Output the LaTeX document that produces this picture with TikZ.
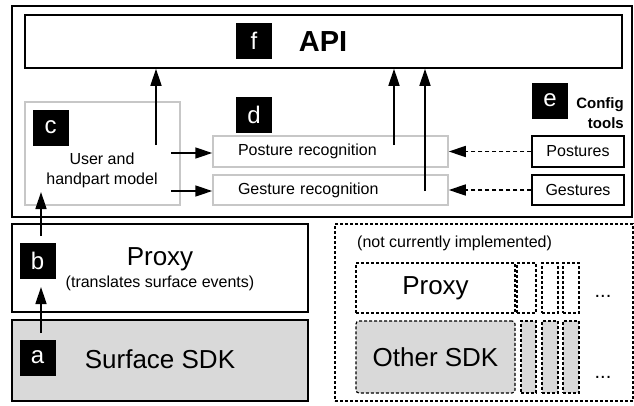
\documentclass[tikz,border=0pt]{standalone}
\usepackage{fontspec}
\setmainfont{Liberation Sans}
\usetikzlibrary{arrows.meta}

\newcommand{\szfont}[2]{\fontsize{#1}{#2}\selectfont}

\tikzset{
  box/.style={draw, line width=1.5pt, inner sep=0pt},
  graybox/.style={draw=black!22, line width=1.5pt, inner sep=0pt},
  dbox/.style={draw, line width=1.2pt, dash pattern=on 3pt off 2pt, inner sep=0pt},
  tag/.style={fill=black, text=white, minimum size=36pt, inner sep=0pt, font=\szfont{24}{24}},
  arr/.style={line width=1.5pt, -{Triangle[length=17pt,width=11pt]}},
  darr/.style={arr, dash pattern=on 4pt off 3pt},
  txt/.style={font=\szfont{16}{20}, align=center, inner sep=0pt},
  big/.style={font=\szfont{26}{28}, inner sep=0pt}
}

\begin{document}
\begin{tikzpicture}[x=1pt,y=-1pt]
	\useasboundingbox (0,0) rectangle (634,405);
	% Верхний блок
	\node[box, minimum width=620pt, minimum height=211pt] (frame) at (322,111.5) {};
	\node[box, minimum width=597pt, minimum height=53pt] (api) at (323.5,41.5) {};
	\node[tag] (f) at (254,41) {f};
	\node[font=\szfont{29}{30}\bfseries, inner sep=0pt] (apitext) at (323,42) {API};
	% Модель руки
	\node[graybox, minimum width=155pt, minimum height=103pt] (model) at (102.5,153.5) {};
	\node[tag] (c) at (50.5,127.5) {c};
	\node[txt] (modeltext) at (102,170) {User and\\handpart model};
	% Распознавание
	\node[tag] (d) at (254,115) {d};
	\node[graybox, font=\szfont{16}{20}, text width=185pt, inner xsep=25pt, align=left,
		minimum height=31pt] (posrec) at (330.5,151.5) {Posture recognition};
	\node[graybox, font=\szfont{16}{20}, text width=185pt, inner xsep=25pt, align=left,
		minimum height=30pt] (gesrec) at (330.5,190) {Gesture recognition};
	% Инструменты настройки
	\node[tag] (e) at (550,100.5) {e};
	\node[font=\szfont{15}{20}\bfseries, align=right, anchor=east, inner sep=0pt] (config) at (624,113) {Config\\tools};
	\node[box, txt, minimum width=92pt, minimum height=31pt] (postures) at (578,151.5) {Postures};
	\node[box, txt, minimum width=92pt, minimum height=30pt] (gestures) at (578,190) {Gestures};
	% Прокси и SDK
	\node[box, minimum width=296pt, minimum height=88pt] (proxy) at (160,268) {};
	\node[tag] (b) at (37.5,261) {b};
	\node[big] (proxytext) at (160,259) {Proxy};
	\node[txt] (proxysub) at (160,283) {(translates surface events)};
	\node[box, fill=black!15, minimum width=296pt, minimum height=81pt] (sdk) at (160,360.5) {};
	\node[tag] (a) at (37.5,357.5) {a};
	\node[big] (sdktext) at (160,359) {Surface SDK};
	% Не реализовано
	\node[dbox, minimum width=298pt, minimum height=177pt] (other) at (484,312.5) {};
	\node[txt, anchor=west] (notimpl) at (357,243) {(not currently implemented)};
	\node[dbox, big, minimum width=159pt, minimum height=50pt] (oproxy) at (435.5,288) {Proxy};
	\node[dbox, minimum width=19pt, minimum height=50pt] (op1) at (526.5,288) {};
	\node[dbox, minimum width=16pt, minimum height=50pt] (op2) at (550,288) {};
	\node[dbox, minimum width=16pt, minimum height=50pt] (op3) at (571,288) {};
	\node[dbox, big, fill=black!15, rounded corners=3pt, minimum width=159pt, minimum height=72pt] (osdk) at (435.5,357) {Other SDK};
	\node[dbox, fill=black!15, minimum width=15pt, minimum height=72pt] (os1) at (528.5,357) {};
	\node[dbox, fill=black!15, minimum width=16pt, minimum height=72pt] (os2) at (550,357) {};
	\node[dbox, fill=black!15, minimum width=16pt, minimum height=72pt] (os3) at (571,357) {};
	\node[font=\szfont{20}{20}, anchor=base, inner sep=0pt] (dots1) at (603,297) {...};
	\node[font=\szfont{20}{20}, anchor=base, inner sep=0pt] (dots2) at (603,378) {...};
	% Стрелки
	\coordinate (c1) at (156,145);
	\coordinate (c2) at (171,153);
	\coordinate (c3) at (171,191);
	\coordinate (d1) at (394,145);
	\coordinate (d2) at (425,191);
	\coordinate (b1) at (41,236);
	\coordinate (b2) at (41,192);
	\coordinate (a1) at (41,333);
	\coordinate (a2) at (41,287);
	\draw[arr] (c1) -- (c1 |- api.south);
	\draw[arr] (c2) -- (c2 -| posrec.west);
	\draw[arr] (c3) -- (c3 -| gesrec.west);
	\draw[arr] (d1) -- (d1 |- api.south);
	\draw[arr] (d2) -- (d2 |- api.south);
	\draw[darr] (postures.west) -- (posrec.east);
	\draw[darr] (gestures.west) -- (gesrec.east);
	\draw[arr] (b1) -- (b2);
	\draw[arr] (a1) -- (a2);
\end{tikzpicture}
\end{document}
